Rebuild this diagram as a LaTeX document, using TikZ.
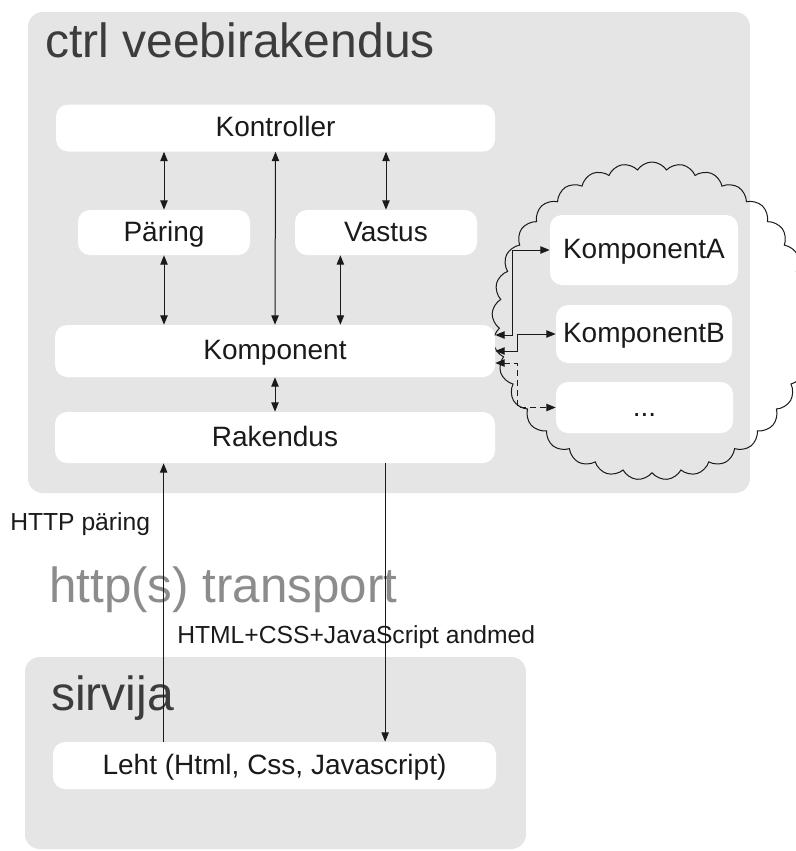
\documentclass[tikz,border=0pt]{standalone}
\usepackage{fontspec}
\setmainfont{Liberation Sans}
\usetikzlibrary{shapes.symbols,arrows.meta,calc}
\definecolor{panelgray}{HTML}{E5E5E5}
\definecolor{titlegray}{HTML}{3C3C3C}
\definecolor{transgray}{HTML}{8C8C8C}
\definecolor{ink}{HTML}{1A1A1A}
\newcommand{\pxu}{0.75pt}
\begin{document}
\begin{tikzpicture}[x=0.75pt,y=-0.75pt,
  panelbox/.style={fill=panelgray, draw=none, rounded corners=11pt, inner sep=0pt},
  wbox/.style={fill=white, draw=none, rounded corners=9pt, inner sep=0pt,
    font=\fontsize{21}{25}\selectfont, text=ink, text height=15pt, text depth=2pt},
  bigtitle/.style={anchor=base west, inner sep=0pt, font=\fontsize{36}{40}\selectfont, text=titlegray},
  smalltext/.style={anchor=base west, inner sep=0pt, font=\fontsize{18.5}{22}\selectfont, text=ink},
  tip/.tip={Triangle[length=7pt,width=5.5pt]},
  link/.style={draw=ink, line width=0.75pt, tip-tip},
  oneway/.style={draw=ink, line width=0.75pt, -tip},
]
\useasboundingbox (0,0) rectangle (796,851);

% panels
\node[panelbox, minimum width=722*\pxu, minimum height=481*\pxu] (web) at (389,252.5) {};
\node[panelbox, minimum width=501*\pxu, minimum height=192*\pxu] (browser) at (275.5,753) {};

% cloud
\node[cloud, draw=ink, line width=0.75pt, cloud puffs=33, cloud puff arc=115, aspect=1,
      minimum width=320*\pxu, minimum height=318*\pxu, inner sep=0pt] (cloudy) at (652,321) {};

% titles
\node[bigtitle] (webtitle) at (45,57) {ctrl veebirakendus};
\node[bigtitle] (browsertitle) at (51,710) {sirvija};
\node[bigtitle, text=transgray, font=\fontsize{37}{41}\selectfont] (transport) at (49,602) {http(s) transport};
\node[smalltext] (httpreq) at (10,530) {HTTP päring};
\node[smalltext] (httpresp) at (177,643) {HTML+CSS+JavaScript andmed};

% white boxes
\node[wbox, minimum width=439*\pxu, minimum height=47*\pxu] (kontroller) at (275.5,128) {Kontroller};
\node[wbox, minimum width=172*\pxu, minimum height=45*\pxu] (paring) at (164,232.5) {Päring};
\node[wbox, minimum width=182*\pxu, minimum height=45*\pxu] (vastus) at (386,232.5) {Vastus};
\node[wbox, minimum width=440*\pxu, minimum height=52*\pxu] (komp) at (275,351) {Komponent};
\node[wbox, minimum width=440*\pxu, minimum height=51*\pxu] (rak) at (275,437.5) {Rakendus};
\node[wbox, minimum width=188*\pxu, minimum height=70*\pxu] (kA) at (644,250) {KomponentA};
\node[wbox, minimum width=176*\pxu, minimum height=58*\pxu] (kB) at (644,334) {KomponentB};
\node[wbox, minimum width=177*\pxu, minimum height=51*\pxu] (kC) at (644.5,407.5) {...};
\node[wbox, minimum width=443*\pxu, minimum height=47*\pxu] (leht) at (274.5,765.5) {Leht (Html, Css, Javascript)};

% connectors inside the web application
\draw[link] (kontroller.south -| paring.north) -- (paring.north);
\draw[link] (kontroller.south) -- (komp.north);
\draw[link] (kontroller.south -| vastus.north) -- (vastus.north);
\draw[link] (paring.south) -- (paring.south |- komp.north);
\coordinate (vk) at ($(vastus.south west)!0.25!(vastus.south east)$);
\draw[link] (vk) -- (vk |- komp.north);
\draw[link] (komp.south) -- (rak.north);

% connectors to the components in the cloud
\draw[link] ($(komp.east)+(0,-16)$) -- ++(17,0) |- (kA.west);
\draw[link] (komp.east) -- ++(22,0) |- (kB.west);
\draw[link, dash pattern=on 4.5pt off 3pt] ($(komp.east)+(0,12)$) -- ++(22,0) |- (kC.west);

% http transport
\coordinate (upL) at ($(leht.north west)!0.25!(leht.north east)$);
\draw[oneway] (upL) -- (upL |- rak.south);
\coordinate (dnR) at ($(rak.south west)!0.75!(rak.south east)$);
\draw[oneway] (dnR) -- (dnR |- leht.north);
\end{tikzpicture}
\end{document}
